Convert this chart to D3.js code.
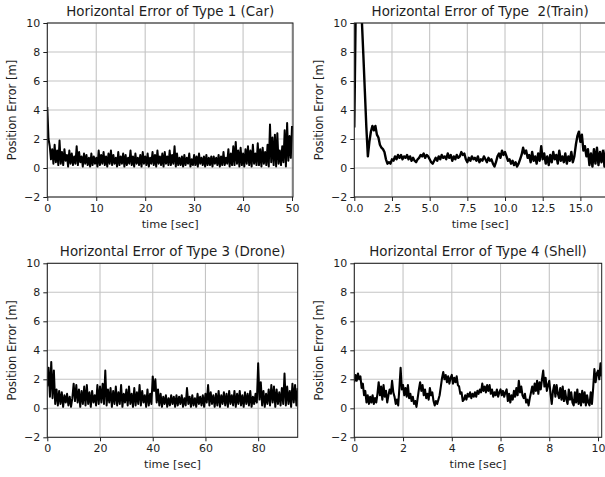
<!DOCTYPE html>
<html>
<head>
<meta charset="utf-8">
<script src="https://cdnjs.cloudflare.com/ajax/libs/d3/7.8.5/d3.min.js"></script>
<style>
  body { margin: 0; background: #fff; }
  svg { display: block; font-family: "DejaVu Sans", sans-serif; }
</style>
</head>
<body>
<svg id="chart" width="605" height="477"></svg>
<script>
// sample interval of each recording [sec]
const carStep = 0.25, trainStep = 0.1, droneStep = 0.5, shellStep = 0.05;

// horizontal position error [m]
const carError = [
  4.2, 2.0, 1.5, 0.6, 1.3, 0.3, 1.6, 0.4, 1.2, 0.2, 1.9, 0.3, 1.1, 0.2, 1.3, 0.5,
  0.9, 0.1, 1.2, 0.3, 1.0, 0.2, 0.8, 0.3, 1.5, 0.2, 1.1, 0.4, 0.8, 0.1, 1.0, 0.3,
  0.9, 0.2, 0.7, 0.1, 1.0, 0.2, 0.8, 0.3, 0.7, 0.1, 1.2, 0.2, 0.9, 0.3, 1.1, 0.2,
  0.8, 0.1, 1.0, 0.3, 1.2, 0.2, 0.9, 0.3, 0.7, 0.1, 1.1, 0.2, 0.8, 0.3, 1.0, 0.1,
  0.9, 0.2, 0.7, 0.3, 1.2, 0.2, 0.8, 0.1, 1.0, 0.3, 0.7, 0.2, 0.9, 0.1, 1.1, 0.3,
  0.8, 0.2, 1.0, 0.1, 0.7, 0.3, 1.1, 0.2, 0.9, 0.1, 1.2, 0.3, 0.8, 0.2, 1.0, 0.1,
  1.1, 0.3, 0.8, 0.2, 1.2, 0.2, 0.9, 0.3, 1.5, 0.1, 1.0, 0.2, 0.7, 0.2, 0.8, 0.1,
  0.9, 0.2, 0.7, 0.3, 1.0, 0.1, 0.6, 0.2, 0.9, 0.2, 0.8, 0.1, 1.0, 0.3, 0.7, 0.2,
  0.8, 0.1, 0.9, 0.2, 0.7, 0.2, 0.8, 0.1, 0.8, 0.3, 0.7, 0.2, 0.9, 0.1, 0.8, 0.2,
  1.1, 0.2, 0.7, 0.3, 1.3, 0.1, 1.0, 0.2, 1.5, 0.2, 1.8, 0.3, 1.2, 0.1, 1.4, 0.2,
  1.0, 0.1, 1.3, 0.3, 1.5, 0.2, 1.2, 0.1, 1.6, 0.3, 1.0, 0.2, 1.7, 0.2, 1.3, 0.1,
  1.4, 0.3, 1.1, 0.2, 1.6, 0.1, 3.0, 0.4, 2.1, 0.2, 2.3, 0.1, 2.4, 0.3, 1.2, 0.2,
  1.5, 0.4, 2.6, 0.1, 3.1, 0.5, 2.2, 0.7, 2.9
];

const trainError = [
  2.8, 11.5, 14, 15, 13, 10.2, 7.8, 5.3, 2.8, 0.8,
  1.8, 2.5, 2.9, 2.6, 2.9, 2.3, 2.1, 1.6, 1.4, 1.3,
  1.1, 0.6, 0.3, 0.4, 0.3, 0.6, 0.5, 0.8, 0.6, 0.9,
  0.7, 0.9, 0.6, 0.8, 0.7, 0.9, 0.6, 0.8, 0.5, 0.7,
  0.5, 0.4, 0.6, 0.7, 0.9, 0.8, 1.0, 0.7, 0.9, 0.8,
  0.6, 0.4, 0.3, 0.5, 0.7, 0.5, 0.8, 0.6, 0.9, 0.7,
  0.8, 0.6, 1.0, 0.7, 0.9, 0.5, 0.8, 0.6, 0.9, 0.7,
  0.8, 1.1, 0.9, 1.0, 0.6, 0.4, 0.7, 0.5, 0.8, 0.6,
  0.7, 0.5, 0.8, 0.4, 0.6, 0.5, 0.8, 0.6, 0.4, 0.7,
  0.5, 0.6, 0.3, 0.1, 0.4, 0.8, 1.0, 0.7, 1.2, 0.9,
  1.1, 0.8, 0.5, 0.6, 0.3, 0.5, 0.2, 0.4, 0.1, 0.3,
  0.6, 0.9, 1.4, 1.0, 1.2, 0.7, 0.9, 0.4, 1.1, 0.5,
  0.8, 0.3, 1.0, 0.5, 1.5, 0.6, 1.0, 0.3, 0.8, 0.2,
  0.9, 0.4, 1.1, 0.6, 0.9, 0.3, 1.2, 0.5, 0.8, 0.4,
  1.0, 0.3, 0.8, 0.5, 1.1, 0.4, 0.8, 1.6, 2.2, 2.5,
  1.8, 2.3, 1.2, 1.5, 0.8, 1.3, 0.2, 1.0, 0.1, 1.3,
  0.3, 1.4, 0.2, 1.1, 0.4, 1.2, 0.1, 1.3
];

const droneError = [
  1.5, 2.8, 0.8, 3.2, 0.7, 2.6, 0.3, 1.3, 0.2, 1.2,
  0.3, 1.1, 0.1, 0.9, 0.4, 1.0, 0.2, 0.8, 0.1, 0.7,
  1.7, 0.5, 1.6, 0.4, 1.3, 0.1, 1.2, 0.3, 1.5, 0.2,
  1.6, 0.3, 1.1, 0.1, 1.2, 0.4, 0.9, 0.2, 1.6, 0.3,
  1.5, 0.4, 1.7, 0.3, 2.6, 0.2, 1.3, 0.4, 1.4, 0.1,
  1.2, 0.3, 1.5, 0.2, 1.1, 0.3, 1.6, 0.1, 1.0, 0.4,
  1.3, 0.2, 1.5, 0.3, 1.0, 0.1, 1.4, 0.2, 1.1, 0.3,
  1.6, 0.2, 1.2, 0.4, 0.9, 0.1, 1.3, 0.2, 1.0, 0.3,
  2.2, 1.2, 2.0, 0.4, 1.3, 0.2, 1.0, 0.1, 0.8, 0.3,
  0.9, 0.1, 0.7, 0.2, 0.9, 0.3, 0.8, 0.1, 0.9, 0.2,
  0.8, 0.3, 0.9, 0.1, 0.7, 0.2, 1.4, 0.3, 0.8, 0.1,
  0.9, 0.2, 0.7, 0.1, 1.0, 0.3, 0.8, 0.2, 0.9, 0.1,
  1.0, 0.4, 1.6, 0.2, 1.1, 0.3, 0.9, 0.1, 1.0, 0.2,
  1.2, 0.1, 0.9, 0.3, 1.1, 0.2, 1.0, 0.1, 1.2, 0.3,
  0.9, 0.2, 1.2, 0.1, 1.0, 0.3, 1.2, 0.2, 0.9, 0.1,
  1.1, 0.3, 1.0, 0.2, 1.2, 0.1, 0.8, 0.3, 1.0, 0.4,
  3.1, 0.6, 1.8, 0.2, 1.2, 0.1, 1.0, 0.3, 1.3, 0.2,
  1.6, 0.4, 1.5, 0.1, 1.3, 0.3, 1.1, 0.2, 1.4, 0.3,
  2.4, 0.2, 1.5, 0.3, 1.2, 0.1, 1.7, 0.4, 1.6, 0.2,
  1.4
];

const shellError = [
  1.8, 2.3, 1.9, 2.4, 2.0, 2.2, 1.4, 1.7, 0.9, 1.2, 0.4, 0.9, 0.3, 0.8, 0.4, 0.9, 0.3, 0.7, 0.4, 1.0,
  1.8, 0.9, 1.5, 0.6, 1.6, 0.8, 1.2, 0.4, 0.9, 1.3, 1.0, 1.9, 1.1, 0.8, 0.3, 0.6, 0.2, 1.4, 2.8, 1.3,
  1.6, 0.9, 1.4, 0.8, 1.6, 0.7, 1.0, 0.5, 0.8, 0.3, 0.5, 0.1, 0.7, 1.3, 1.8, 1.2, 1.6, 0.9, 1.3, 0.7,
  1.0, 0.6, 1.4, 0.9, 1.1, 0.5, 0.2, 0.5, 0.3, 0.6, 0.9, 1.5, 2.1, 2.5, 2.0, 2.3, 1.8, 2.2, 1.7, 2.1,
  2.3, 1.7, 2.1, 1.8, 2.2, 1.6, 1.5, 1.0, 1.1, 0.5, 0.6, 0.9, 0.6, 1.0, 0.8, 1.1, 0.7, 1.0, 0.8, 1.1,
  0.8, 1.2, 1.0, 1.3, 1.1, 1.7, 1.2, 1.5, 1.1, 1.6, 1.2, 1.6, 1.0, 1.3, 0.8, 1.1, 0.9, 1.3, 0.8, 1.1,
  1.3, 0.9, 1.2, 0.8, 1.1, 1.3, 0.5, 1.0, 0.4, 0.9, 0.6, 1.2, 0.8, 1.4, 0.9, 1.9, 1.1, 1.5, 0.9, 0.7,
  1.0, 0.4, 0.6, 0.2, 0.7, 1.1, 1.5, 1.0, 1.7, 1.2, 1.9, 1.0, 1.8, 1.3, 2.0, 2.6, 1.5, 2.1, 1.2, 1.6,
  1.9, 1.0, 0.3, 1.2, 1.6, 0.8, 1.6, 1.0, 0.7, 1.4, 0.6, 1.5, 0.5, 1.2, 0.6, 0.3, 1.3, 0.6, 1.1, 0.4,
  0.2, 1.1, 0.4, 1.3, 0.3, 1.0, 0.2, 1.2, 0.4, 1.1, 0.2, 0.9, 0.4, 0.2, 1.1, 0.3, 1.4, 2.7, 1.8, 2.4,
  2.6, 2.0, 3.1, 2.2
];

const titles = [
  "Horizontal Error of Type 1 (Car)",
  "Horizontal Error of Type  2(Train)",
  "Horizontal Error of Type 3 (Drone)",
  "Horizontal Error of Type 4 (Shell)"
];
const xMax = [50.2, 16.7, 95, 10.15];
const xTicks = [
  [0, 10, 20, 30, 40, 50],
  [0, 2.5, 5, 7.5, 10, 12.5, 15],
  [0, 20, 40, 60, 80],
  [0, 2, 4, 6, 8, 10]
];
const yTicks = [-2, 0, 2, 4, 6, 8, 10];

const panels = [
  { values: carError,   step: carStep,   box: [47.3, 23, 293, 197],  fmt: d3.format("d"), lw: 2.0 },
  { values: trainError, step: trainStep, box: [354.3, 23, 606, 197], fmt: d3.format(".1f"), lw: 2.4 },
  { values: droneError, step: droneStep, box: [47.3, 263.3, 297.7, 437.3], fmt: d3.format("d"), lw: 2.0 },
  { values: shellError, step: shellStep, box: [354.3, 263.3, 601.7, 437.3], fmt: d3.format("d"), lw: 2.1 }
];

const svg = d3.select("#chart");
const textColor = "#1e1e1e";

panels.forEach((p, i) => {
  const [x0, y0, x1, y1] = p.box;
  const x = d3.scaleLinear().domain([0, xMax[i]]).range([x0, x1]);
  const y = d3.scaleLinear().domain([-2, 10]).range([y1, y0]);

  const g = svg.append("g");

  svg.append("clipPath").attr("id", "clip" + i)
    .append("rect")
    .attr("x", x0).attr("y", y0)
    .attr("width", x1 - x0).attr("height", y1 - y0);

  // grid
  g.append("g").selectAll("line")
    .data(xTicks[i])
    .join("line")
    .attr("x1", d => x(d)).attr("x2", d => x(d))
    .attr("y1", y0).attr("y2", y1)
    .attr("stroke", "#c4c4c4").attr("stroke-width", 1.1);
  g.append("g").selectAll("line")
    .data(yTicks)
    .join("line")
    .attr("x1", x0).attr("x2", x1)
    .attr("y1", d => y(d)).attr("y2", d => y(d))
    .attr("stroke", "#c4c4c4").attr("stroke-width", 1.1);

  // the error trace
  const line = d3.line()
    .x((d, k) => x(k * p.step))
    .y(d => y(d));
  g.append("path")
    .datum(p.values)
    .attr("clip-path", `url(#clip${i})`)
    .attr("fill", "none")
    .attr("stroke", "#000")
    .attr("stroke-width", p.lw)
    .attr("stroke-linejoin", "round")
    .attr("d", line);

  // axes
  const xAxis = d3.axisBottom(x).tickValues(xTicks[i]).tickFormat(p.fmt)
    .tickSize(4).tickPadding(3);
  const yAxis = d3.axisLeft(y).tickValues(yTicks)
    .tickFormat(d => d < 0 ? "\u2212" + Math.abs(d) : d)
    .tickSize(4).tickPadding(3);

  const gx = g.append("g").attr("transform", `translate(0,${y1})`).call(xAxis);
  const gy = g.append("g").attr("transform", `translate(${x0},0)`).call(yAxis);
  [gx, gy].forEach(a => {
    a.select(".domain").remove();
    a.selectAll("line").attr("stroke", textColor).attr("stroke-width", 1);
    a.selectAll("text").attr("fill", textColor)
      .style("font-size", "11px").style("font-family", "DejaVu Sans");
  });

  // frame
  g.append("rect")
    .attr("x", x0).attr("y", y0)
    .attr("width", x1 - x0).attr("height", y1 - y0)
    .attr("fill", "none").attr("stroke", textColor).attr("stroke-width", 1);

  // titles and labels
  g.append("text")
    .attr("x", (x0 + x1) / 2).attr("y", y0 - 7)
    .attr("text-anchor", "middle")
    .style("font-size", "13.4px").style("white-space", "pre")
    .attr("fill", textColor)
    .text(titles[i]);

  g.append("text")
    .attr("x", (x0 + x1) / 2).attr("y", y1 + 31)
    .attr("text-anchor", "middle")
    .style("font-size", "11.3px")
    .attr("fill", textColor)
    .text("time [sec]");

  g.append("text")
    .attr("transform", `translate(${x0 - 31},${(y0 + y1) / 2}) rotate(-90)`)
    .attr("text-anchor", "middle")
    .style("font-size", "11.5px")
    .attr("fill", textColor)
    .text("Position Error [m]");
});
</script>
</body>
</html>
